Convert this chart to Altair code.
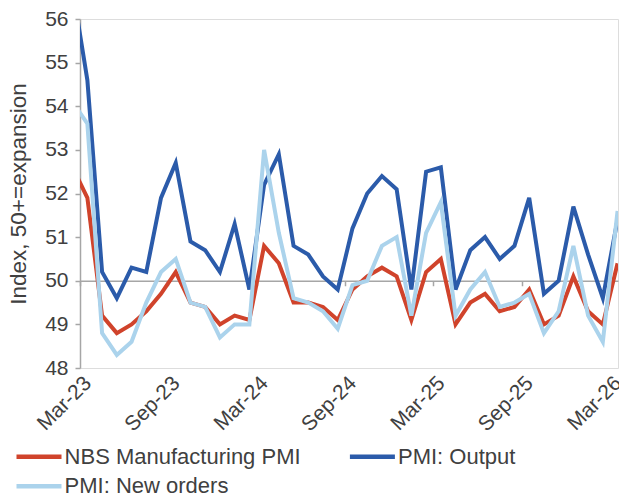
import altair as alt
import pandas as pd

# Monthly observations, Feb-23 .. Mar-26
months = ["Feb-23", "Mar-23", "Apr-23", "May-23", "Jun-23", "Jul-23", "Aug-23", "Sep-23",
          "Oct-23", "Nov-23", "Dec-23", "Jan-24", "Feb-24", "Mar-24", "Apr-24", "May-24",
          "Jun-24", "Jul-24", "Aug-24", "Sep-24", "Oct-24", "Nov-24", "Dec-24", "Jan-25",
          "Feb-25", "Mar-25", "Apr-25", "May-25", "Jun-25", "Jul-25", "Aug-25", "Sep-25",
          "Oct-25", "Nov-25", "Dec-25", "Jan-26", "Feb-26", "Mar-26"]

nbs_pmi = [52.6, 51.9, 49.2, 48.8, 49.0, 49.3, 49.7, 50.2, 49.5, 49.4, 49.0, 49.2, 49.1,
           50.8, 50.4, 49.5, 49.5, 49.4, 49.1, 49.8, 50.1, 50.3, 50.1, 49.1, 50.2, 50.5,
           49.0, 49.5, 49.7, 49.3, 49.4, 49.8, 49.0, 49.2, 50.1, 49.3, 49.0, 50.4]
pmi_output = [56.7, 54.6, 50.2, 49.6, 50.3, 50.2, 51.9, 52.7, 50.9, 50.7, 50.2, 51.3, 49.8,
              52.2, 52.9, 50.8, 50.6, 50.1, 49.8, 51.2, 52.0, 52.4, 52.1, 49.8, 52.5, 52.6,
              49.8, 50.7, 51.0, 50.5, 50.8, 51.9, 49.7, 50.0, 51.7, 50.6, 49.6, 51.4]
pmi_new_orders = [54.1, 53.6, 48.8, 48.3, 48.6, 49.5, 50.2, 50.5, 49.5, 49.4, 48.7, 49.0, 49.0,
                  53.0, 51.1, 49.6, 49.5, 49.3, 48.9, 49.9, 50.0, 50.8, 51.0, 49.2, 51.1, 51.8,
                  49.2, 49.8, 50.2, 49.4, 49.5, 49.7, 48.8, 49.3, 50.8, 49.2, 48.6, 51.6]

series_names = ["NBS Manufacturing PMI", "PMI: Output", "PMI: New orders"]
series_colors = ["#D0432B", "#2B5BAA", "#ABD3EC"]

tick_labels = ["Mar-23", "Sep-23", "Mar-24", "Sep-24", "Mar-25", "Sep-25", "Mar-26"]
tick_values = [0, 6, 12, 18, 24, 30, 36]
y_ticks = [48, 49, 50, 51, 52, 53, 54, 55, 56]

rows = []
for name, vals in zip(series_names, [nbs_pmi, pmi_output, pmi_new_orders]):
    for i, (m, v) in enumerate(zip(months, vals)):
        # position in months from 1 Mar 2023, observation plotted mid-month
        rows.append({"series": name, "month": m, "pos": i - 1 + 0.5, "value": v,
                     "order": series_names.index(name)})
df = pd.DataFrame(rows)

FONT = "Liberation Sans"
TXT = "#404040"
GRAY = "#A6A6A6"
W, H = 538, 349
PAD = {"left": 72, "top": 11, "right": 1, "bottom": 126}
X_MAX = 36.53

label_expr = "[" + ",".join("'%s'" % t for t in tick_labels) + "][round(datum.value/6)]"

x_scale = alt.Scale(domain=[0, X_MAX], nice=False, zero=False)
y_scale = alt.Scale(domain=[48, 56], nice=False, zero=False)

lines = alt.Chart(df).mark_line(strokeWidth=4, clip=True, strokeJoin="miter").encode(
    x=alt.X("pos:Q", scale=x_scale,
            axis=alt.Axis(values=tick_values, labelExpr=label_expr, labelAngle=-45,
                          labelAlign="right", labelBaseline="top", domain=False,
                          ticks=False, grid=False, title=None, labelFontSize=21,
                          labelFont=FONT, labelColor=TXT, labelPadding=4,
                          labelOverlap=False, orient="bottom")),
    y=alt.Y("value:Q", scale=y_scale,
            axis=alt.Axis(values=y_ticks, grid=False, domainColor=GRAY, tickColor=GRAY,
                          tickSize=5, labelPadding=7, labelFontSize=21, labelFont=FONT,
                          labelColor=TXT, title="Index, 50+=expansion", titleFont=FONT,
                          titleFontSize=22.5, titleFontWeight="normal", titleColor=TXT,
                          titlePadding=14.5, domainWidth=1.5, tickWidth=1.5)),
    color=alt.Color("series:N",
                    scale=alt.Scale(domain=series_names, range=series_colors),
                    legend=alt.Legend(title=None, orient="none", legendX=-52.5, legendY=426,
                                      columns=2, direction="horizontal",
                                      symbolType="M-2.5,0L2.5,0", symbolSize=324,
                                      symbolStrokeWidth=4.5, labelFontSize=22,
                                      labelFont=FONT, labelColor=TXT, labelOffset=14.1,
                                      columnPadding=39.4, rowPadding=6.7, padding=0,
                                      labelLimit=400)),
    detail="series:N",
    order=alt.Order("order:Q"),
)

zero_line = alt.Chart(pd.DataFrame({"pos": tick_values})).mark_rule(
    color=GRAY, strokeWidth=0, opacity=0).encode(
    x=alt.X("pos:Q", scale=x_scale,
            axis=alt.Axis(values=tick_values, labels=False, domain=True, ticks=True,
                          tickSize=5, domainColor=GRAY, tickColor=GRAY, domainWidth=1.5,
                          tickWidth=1.5, grid=False, title=None, orient="bottom",
                          offset=-(H * 2 / 8))),
)

chart = alt.layer(lines, zero_line).resolve_axis(x="independent").properties(
    width=W, height=H, padding=PAD, autosize=alt.AutoSizeParams(type="none"),
).configure_view(stroke=None).configure(font=FONT)

chart.save("out.html", embed_options={"renderer": "svg", "actions": False})
